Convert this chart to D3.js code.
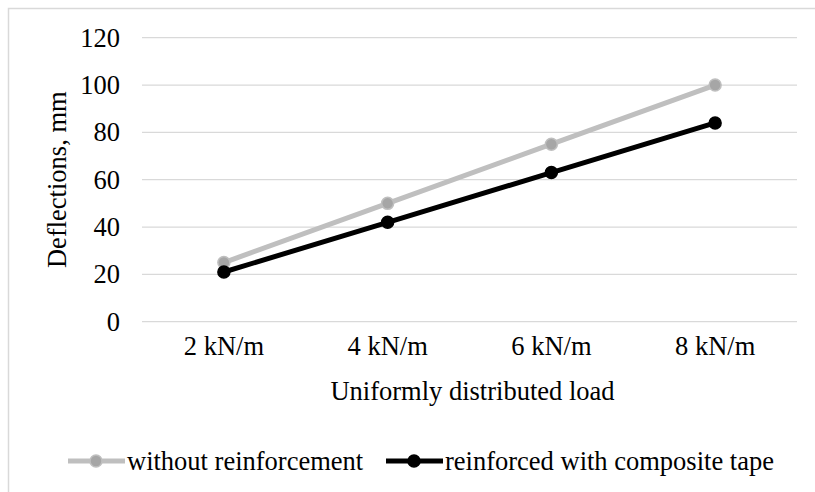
<!DOCTYPE html>
<html>
<head>
<meta charset="utf-8">
<script src="https://cdn.jsdelivr.net/npm/d3@7"></script>
<style>
  body { margin: 0; background: #fff; }
  svg text { font-family: "Liberation Serif", "Times New Roman", Times, serif !important; fill: #000; }
</style>
</head>
<body>
<svg id="chart" width="815" height="492"></svg>
<script>
// chart data
var loads = ["2 kN/m", "4 kN/m", "6 kN/m", "8 kN/m"]
var withoutReinf = [25, 50, 75, 100]
var withTape = [21, 42, 63, 84]
var yTicks = [0, 20, 40, 60, 80, 100, 120]
var seriesNames = ["without reinforcement", "reinforced with composite tape"]

var svg = d3.select("#chart")
var margin = {left: 142, right: 18, top: 37.7, bottom: 170.3}
var W = 815, H = 492
var fs = 26.5

// outer frame (extends past the picture on right/bottom)
svg.append("rect").attr("x", 8.5).attr("y", 8.5).attr("width", 900).attr("height", 600)
  .attr("fill", "none").attr("stroke", "#d9d9d9").attr("stroke-width", 1.5)

var x = d3.scaleBand().domain(loads).range([margin.left, W - margin.right])
var y = d3.scaleLinear().domain([0, 120]).range([H - margin.bottom, margin.top])

// gridlines
svg.append("g").selectAll("line").data(yTicks).join("line")
  .attr("x1", margin.left).attr("x2", W - margin.right)
  .attr("y1", d => y(d)).attr("y2", d => y(d))
  .attr("stroke", "#d9d9d9").attr("stroke-width", 1.3)

// y axis labels
var yAxis = svg.append("g").attr("transform", "translate(" + (margin.left - 5) + ",0)")
  .call(d3.axisLeft(y).tickValues(yTicks).tickSize(0).tickPadding(17))
yAxis.attr("font-family", null).attr("font-size", null)
yAxis.select(".domain").remove()
yAxis.selectAll("text").attr("font-size", fs)

// x axis labels
var xAxis = svg.append("g").attr("transform", "translate(0," + y(0) + ")")
  .call(d3.axisBottom(x).tickSize(0).tickPadding(14))
xAxis.attr("font-family", null).attr("font-size", null)
xAxis.select(".domain").remove()
xAxis.selectAll("text").attr("font-size", fs)

// axis titles
svg.append("text").attr("x", (margin.left + W - margin.right) / 2 + 3).attr("y", 400)
  .attr("text-anchor", "middle").attr("font-size", fs).text("Uniformly distributed load")
svg.append("text").attr("transform", "translate(66," + (y(60)) + ") rotate(-90)")
  .attr("text-anchor", "middle").attr("font-size", fs).text("Deflections, mm")

// series
var series = [
  {name: seriesNames[0], values: withoutReinf, line: "#bfbfbf", fill: "#a6a6a6"},
  {name: seriesNames[1], values: withTape, line: "#000000", fill: "#000000"}
]
var line = d3.line().x((d, i) => x(loads[i]) + x.bandwidth() / 2).y(d => y(d))

series.forEach(s => {
  svg.append("path").datum(s.values).attr("d", line)
    .attr("fill", "none").attr("stroke", s.line).attr("stroke-width", 5)
  svg.append("g").selectAll("circle").data(s.values).join("circle")
    .attr("cx", (d, i) => x(loads[i]) + x.bandwidth() / 2).attr("cy", d => y(d))
    .attr("r", 6).attr("fill", s.fill).attr("stroke", s.line).attr("stroke-width", 1.5)
})

// legend
var legendX = [68, 386]
var leg = svg.append("g").selectAll("g").data(series).join("g")
  .attr("transform", (d, i) => "translate(" + legendX[i] + ",461)")
leg.append("line").attr("x1", 0).attr("x2", 57).attr("y1", 0).attr("y2", 0)
  .attr("stroke", d => d.line).attr("stroke-width", 5)
leg.append("circle").attr("cx", 28).attr("cy", 0).attr("r", 6)
  .attr("fill", d => d.fill).attr("stroke", d => d.line).attr("stroke-width", 1.5)
leg.append("text").attr("x", 59).attr("y", 8.5).attr("font-size", fs).text(d => d.name)
</script>
</body>
</html>
